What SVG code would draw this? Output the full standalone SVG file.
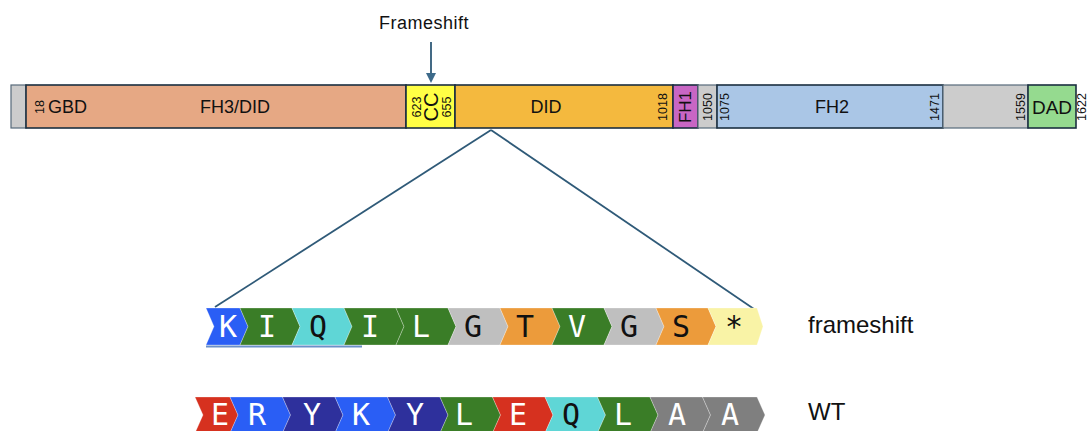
<svg xmlns="http://www.w3.org/2000/svg" width="1089" height="431" viewBox="0 0 1089 431">
  <style>
    .dom { stroke: #1b2f40; stroke-width: 1.6; }
    .gap { fill: #cccccc; stroke: #56697a; stroke-width: 1.2; }
    .lbl { font-family: "Liberation Sans", Arial, sans-serif; font-size: 18px; fill: #111; text-anchor: middle; dominant-baseline: central; }
    .num { font-family: "Liberation Sans", Arial, sans-serif; font-size: 12.5px; fill: #111; text-anchor: middle; dominant-baseline: central; }
    .aa { stroke: #ffffff; stroke-opacity: 0.35; stroke-width: 0.8; }
    .res { font-family: "DejaVu Sans Mono", "Liberation Mono", monospace; font-size: 30px; text-anchor: middle; }
    .w { fill: #ffffff; }
    .k { fill: #111111; }
    .side { font-family: "Liberation Sans", Arial, sans-serif; font-size: 24px; fill: #111; }
    .conn { stroke: #2f5a78; stroke-width: 1.8; fill: none; }
  </style>
  <defs>
    <marker id="arrowhead" markerWidth="10" markerHeight="10" refX="5" refY="5" orient="auto" markerUnits="userSpaceOnUse">
      <path d="M0,0 L10,5 L0,10 Z" fill="#3d6a8a"/>
    </marker>
  </defs>

  <!-- Frameshift callout -->
  <text x="424" y="29" font-family="Liberation Sans, Arial, sans-serif" font-size="18" letter-spacing="0.5" fill="#111" text-anchor="middle">Frameshift</text>

  <!-- Protein domain bar -->
  <g id="n-start"><rect class="gap" x="11" y="85" width="15" height="43"/></g>
  <g id="n-fh3did">
    <rect class="dom" x="26" y="85" width="380" height="43" fill="#e6a884"/>
    <text class="num" transform="translate(40,107) rotate(-90)">18</text>
    <text class="lbl" x="48" y="107" style="text-anchor:start">GBD</text>
    <text class="lbl" x="235" y="107">FH3/DID</text>
  </g>
  <g id="n-cc">
    <rect class="dom" x="406" y="85" width="49" height="43" fill="#ffff45"/>
    <text class="num" transform="translate(417,107) rotate(-90)">623</text>
    <text class="lbl" style="font-size:20px" transform="translate(431,107) rotate(-90)">CC</text>
    <text class="num" transform="translate(447,107) rotate(-90)">655</text>
  </g>
  <g id="n-did">
    <rect class="dom" x="455" y="85" width="218" height="43" fill="#f4b93e"/>
    <text class="lbl" x="546" y="107">DID</text>
    <text class="num" transform="translate(663,107) rotate(-90)">1018</text>
  </g>
  <g id="n-fh1">
    <rect class="dom" x="673" y="85" width="25" height="43" fill="#c866c4"/>
    <text class="lbl" style="font-size:17px" transform="translate(685.5,107) rotate(-90)">FH1</text>
  </g>
  <g id="n-gap1">
    <rect class="gap" x="698" y="85" width="19" height="43"/>
    <text class="num" transform="translate(707.5,107) rotate(-90)">1050</text>
  </g>
  <g id="n-fh2">
    <rect class="dom" x="717" y="85" width="226" height="43" fill="#aac6e6"/>
    <text class="num" transform="translate(725,107) rotate(-90)">1075</text>
    <text class="lbl" x="832" y="107">FH2</text>
    <text class="num" transform="translate(935,107) rotate(-90)">1471</text>
  </g>
  <g id="n-gap2">
    <rect class="gap" x="943" y="85" width="85" height="43"/>
    <text class="num" transform="translate(1021,107) rotate(-90)">1559</text>
  </g>
  <g id="n-dad">
    <rect class="dom" x="1028" y="85" width="48" height="43" fill="#95da8f"/>
    <text class="lbl" style="font-size:19px" x="1052" y="107">DAD</text>
    <text class="num" transform="translate(1082,107) rotate(-90)">1622</text>
  </g>

  <!-- Connectors -->
  <g id="connectors">
    <line class="conn" x1="431" y1="42" x2="431" y2="78" stroke="#3d6a8a" marker-end="url(#arrowhead)"/>
    <line class="conn" x1="491" y1="130" x2="215" y2="307"/>
    <line class="conn" x1="491" y1="130" x2="754" y2="309"/>
  </g>

  <!-- Frameshift sequence -->
  <g id="n-frameshift-seq">
    <polygon class="aa" fill="#2a5ef5" points="206,308 240,308 248,326.5 240,345 206,345 214,326.5"/>
    <polygon class="aa" fill="#3a7d27" points="240,308 292,308 300,326.5 292,345 240,345 248,326.5"/>
    <polygon class="aa" fill="#5fd6d6" points="292,308 344,308 352,326.5 344,345 292,345 300,326.5"/>
    <polygon class="aa" fill="#3a7d27" points="344,308 396,308 404,326.5 396,345 344,345 352,326.5"/>
    <polygon class="aa" fill="#3a7d27" points="396,308 448,308 456,326.5 448,345 396,345 404,326.5"/>
    <polygon class="aa" fill="#bfbfbf" points="448,308 500,308 508,326.5 500,345 448,345 456,326.5"/>
    <polygon class="aa" fill="#ec9b3b" points="500,308 552,308 560,326.5 552,345 500,345 508,326.5"/>
    <polygon class="aa" fill="#3a7d27" points="552,308 604,308 612,326.5 604,345 552,345 560,326.5"/>
    <polygon class="aa" fill="#bfbfbf" points="604,308 656,308 664,326.5 656,345 604,345 612,326.5"/>
    <polygon class="aa" fill="#ec9b3b" points="656,308 708,308 716,326.5 708,345 656,345 664,326.5"/>
    <polygon class="aa" fill="#f9f3a6" points="708,308 757,308 763,326.5 757,345 708,345 716,326.5"/>
    <line x1="206" y1="346.5" x2="362" y2="346.5" stroke="#6b90c8" stroke-width="2"/>
    <text class="res w" x="228" y="337">K</text>
    <text class="res w" x="267" y="337">I</text>
    <text class="res k" x="318" y="337">Q</text>
    <text class="res w" x="370" y="337">I</text>
    <text class="res w" x="421" y="337">L</text>
    <text class="res k" x="473" y="337">G</text>
    <text class="res k" x="525" y="337">T</text>
    <text class="res w" x="577" y="337">V</text>
    <text class="res k" x="629" y="337">G</text>
    <text class="res k" x="681" y="337">S</text>
    <text class="res k" x="734" y="337">*</text>
    <text class="side" x="808" y="333">frameshift</text>
  </g>

  <!-- Wild-type sequence -->
  <g id="n-wt-seq">
    <polygon class="aa" fill="#d6311f" points="195,397 230,397 238,415 230,433 195,433 203,415"/>
    <polygon class="aa" fill="#2a5ef5" points="230,397 282.5,397 290.5,415 282.5,433 230,433 238,415"/>
    <polygon class="aa" fill="#2e309c" points="282.5,397 335,397 343,415 335,433 282.5,433 290.5,415"/>
    <polygon class="aa" fill="#2a5ef5" points="335,397 387.5,397 395.5,415 387.5,433 335,433 343,415"/>
    <polygon class="aa" fill="#2e309c" points="387.5,397 440,397 448,415 440,433 387.5,433 395.5,415"/>
    <polygon class="aa" fill="#3a7d27" points="440,397 492.5,397 500.5,415 492.5,433 440,433 448,415"/>
    <polygon class="aa" fill="#d6311f" points="492.5,397 545,397 553,415 545,433 492.5,433 500.5,415"/>
    <polygon class="aa" fill="#5fd6d6" points="545,397 597.5,397 605.5,415 597.5,433 545,433 553,415"/>
    <polygon class="aa" fill="#3a7d27" points="597.5,397 650,397 658,415 650,433 597.5,433 605.5,415"/>
    <polygon class="aa" fill="#7f7f7f" points="650,397 702.5,397 710.5,415 702.5,433 650,433 658,415"/>
    <polygon class="aa" fill="#7f7f7f" points="702.5,397 757,397 765,415 757,433 702.5,433 710.5,415"/>
    <text class="res w" x="220" y="425">E</text>
    <text class="res w" x="257" y="425">R</text>
    <text class="res w" x="312" y="425">Y</text>
    <text class="res w" x="361" y="425">K</text>
    <text class="res w" x="415" y="425">Y</text>
    <text class="res w" x="464" y="425">L</text>
    <text class="res w" x="518" y="425">E</text>
    <text class="res k" x="571" y="425">Q</text>
    <text class="res w" x="623" y="425">L</text>
    <text class="res w" x="677" y="425">A</text>
    <text class="res w" x="730" y="425">A</text>
    <text class="side" x="808" y="420">WT</text>
  </g>
</svg>
